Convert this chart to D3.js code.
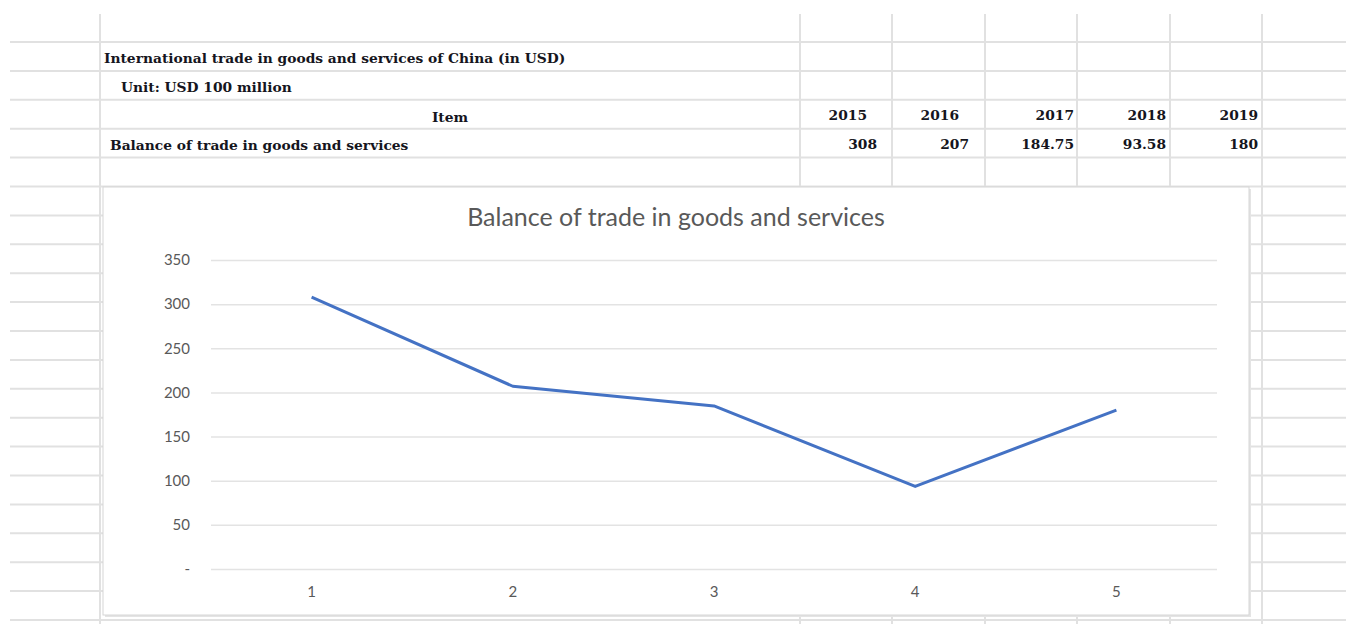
<!DOCTYPE html>
<html>
<head>
<meta charset="utf-8">
<script src="https://cdn.jsdelivr.net/npm/d3@7"></script>
<style>
  body { margin: 0; background: #fff; }
  svg { display: block; }
</style>
</head>
<body>
<div id="plot-container"></div>
<script>
// table + chart values
const tableTitle = "International trade in goods and services of China (in USD)";
const unitLabel = "Unit: USD 100 million";
const itemLabel = "Item";
const seriesName = "Balance of trade in goods and services";
const years = ["2015", "2016", "2017", "2018", "2019"];
const values = [308, 207, 184.75, 93.58, 180];
const categories = ["1", "2", "3", "4", "5"];
const yTicks = [0, 50, 100, 150, 200, 250, 300, 350];

const W = 1346, H = 624;

const svg = d3.select("#plot-container")
    .append("svg")
    .attr("width", W)
    .attr("height", H);

svg.append("rect").attr("width", W).attr("height", H).attr("fill", "#fff");

// spreadsheet grid
const gridColor = "#e1e1e1";
const rowLines = d3.range(21).map(i => 42 + i * 28.9);
const colLines = [100, 800, 892, 985, 1077, 1170, 1262];

svg.append("g")
    .selectAll("line")
    .data(rowLines)
    .enter()
    .append("line")
    .attr("x1", 10)
    .attr("x2", W)
    .attr("y1", d => d)
    .attr("y2", d => d)
    .attr("stroke", gridColor)
    .attr("stroke-width", 2);

svg.append("g")
    .selectAll("line")
    .data(colLines)
    .enter()
    .append("line")
    .attr("x1", d => d)
    .attr("x2", d => d)
    .attr("y1", 14)
    .attr("y2", H)
    .attr("stroke", gridColor)
    .attr("stroke-width", 2);

// table text
const serif = "'DejaVu Serif', 'Liberation Serif', serif";
const cellText = (x, y, t, anchor) => svg.append("text")
    .attr("x", x)
    .attr("y", y)
    .attr("text-anchor", anchor || "start")
    .attr("font-family", serif)
    .attr("font-weight", "bold")
    .attr("font-size", 13.8)
    .attr("fill", "#151520")
    .text(t);

cellText(104, 63, tableTitle);
cellText(121, 92, unitLabel);
cellText(450, 122, itemLabel, "middle");
cellText(110, 150, seriesName);

const yearRight = [867, 959, 1074, 1166, 1258];
const valueRight = [877, 969, 1074, 1166, 1258];
years.forEach((y, i) => cellText(yearRight[i], 120, y, "end"));
values.forEach((v, i) => cellText(valueRight[i], 149, String(v), "end"));

// chart box
const box = { x: 103, y: 187, w: 1146, h: 428 };
svg.append("rect")
    .attr("x", box.x + 2)
    .attr("y", box.y + 2)
    .attr("width", box.w)
    .attr("height", box.h)
    .attr("fill", "#e4e4e4");
svg.append("rect")
    .attr("x", box.x)
    .attr("y", box.y)
    .attr("width", box.w)
    .attr("height", box.h)
    .attr("fill", "#fff")
    .attr("stroke", "#d6d6d6")
    .attr("stroke-width", 1);

const sans = "Lato, 'Open Sans', sans-serif";
const textGray = "#595959";

svg.append("text")
    .attr("x", 676)
    .attr("y", 226)
    .attr("text-anchor", "middle")
    .attr("font-family", sans)
    .attr("font-size", 25)
    .attr("fill", textGray)
    .text(seriesName);

const plot = { left: 211, right: 1217, top: 260, bottom: 569 };

const xScale = d3.scaleBand()
    .domain(categories)
    .range([plot.left, plot.right]);

const yScale = d3.scaleLinear()
    .domain([0, 350])
    .range([plot.bottom, plot.top]);

// horizontal gridlines via axis
const yAxis = svg.append("g")
    .attr("transform", `translate(${plot.left},0)`)
    .call(d3.axisLeft(yScale)
        .tickValues(yTicks)
        .tickSize(-(plot.right - plot.left))
        .tickPadding(21)
        .tickFormat(d => d === 0 ? "-" : d));
yAxis.select(".domain").remove();
yAxis.selectAll(".tick line")
    .attr("stroke", "#e3e3e3")
    .attr("stroke-width", 1.5);
yAxis.selectAll(".tick text")
    .attr("font-family", sans)
    .attr("font-size", 15)
    .attr("fill", textGray);

const xAxis = svg.append("g")
    .attr("transform", `translate(0,${plot.bottom})`)
    .call(d3.axisBottom(xScale).tickSize(0).tickPadding(17));
xAxis.select(".domain").remove();
xAxis.selectAll(".tick text")
    .attr("font-family", sans)
    .attr("font-size", 15)
    .attr("fill", textGray);

const points = categories.map((c, i) => ({ c, v: values[i] }));

svg.append("path")
    .datum(points)
    .attr("fill", "none")
    .attr("stroke", "#4472c4")
    .attr("stroke-width", 3)
    .attr("stroke-linejoin", "round")
    .attr("d", d3.line()
        .x(d => xScale(d.c) + xScale.bandwidth() / 2)
        .y(d => yScale(d.v)));
</script>
</body>
</html>
